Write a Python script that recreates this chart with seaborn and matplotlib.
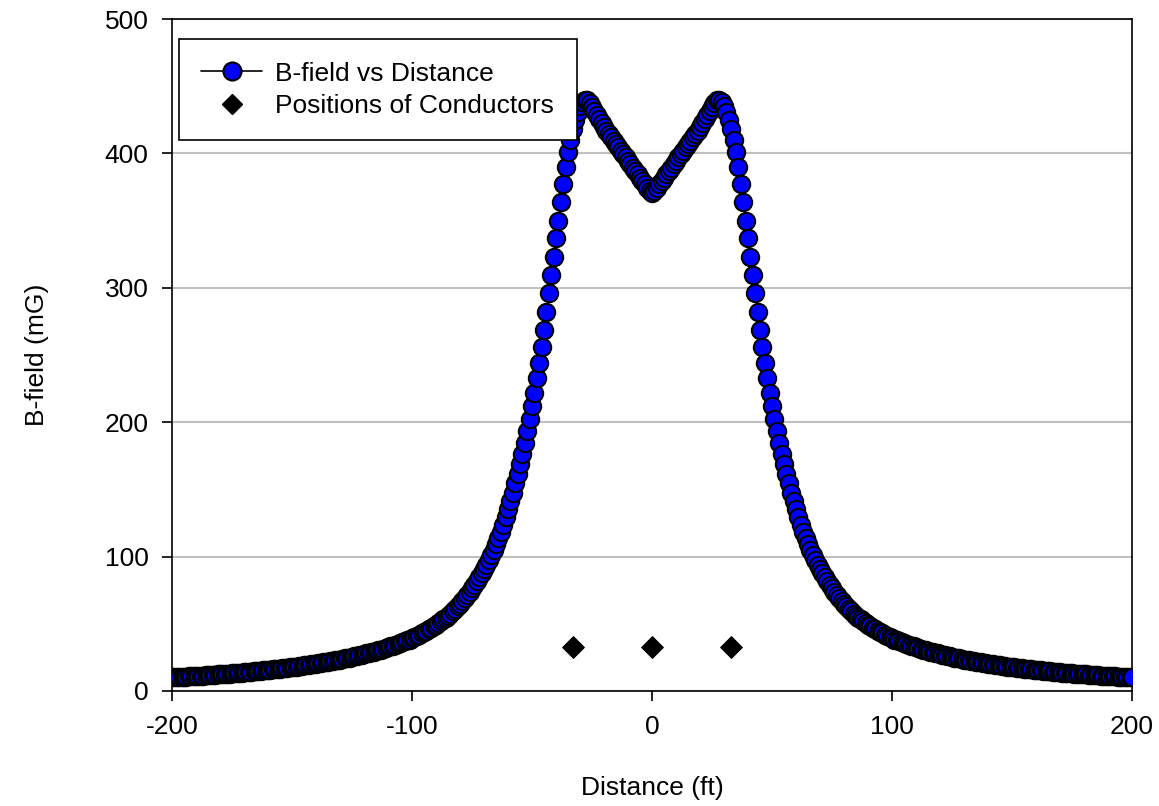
import matplotlib
matplotlib.use("Agg")
import matplotlib.pyplot as plt
from matplotlib.lines import Line2D
import seaborn as sns
import pandas as pd

# distance grid (ft), one point per foot
distance_ft = list(range(-200, 201))

# B-field (mG) for x = -200 .. 0
bfield_left = [
    10.1, 10.2, 10.3, 10.4, 10.5, 10.6, 10.7, 10.9, 11.0, 11.1,
    11.2, 11.3, 11.4, 11.5, 11.7, 11.8, 11.9, 12.0, 12.2, 12.3,
    12.4, 12.6, 12.7, 12.8, 13.0, 13.1, 13.3, 13.4, 13.6, 13.7,
    13.9, 14.1, 14.2, 14.4, 14.6, 14.7, 14.9, 15.1, 15.3, 15.5,
    15.6, 15.8, 16.0, 16.2, 16.4, 16.6, 16.8, 17.1, 17.3, 17.5,
    17.7, 18.0, 18.2, 18.5, 18.7, 19.0, 19.2, 19.5, 19.8, 20.0,
    20.3, 20.6, 20.9, 21.2, 21.5, 21.8, 22.1, 22.4, 22.8, 23.1,
    23.4, 23.8, 24.2, 24.5, 24.9, 25.3, 25.7, 26.1, 26.5, 27.0,
    27.4, 27.9, 28.3, 28.8, 29.3, 29.8, 30.3, 30.8, 31.4, 31.9,
    32.5, 33.1, 33.7, 34.3, 34.9, 35.5, 36.2, 36.9, 37.6, 38.3,
    39.1, 40.0, 40.9, 41.8, 42.8, 43.8, 44.9, 45.9, 47.0, 48.2,
    49.4, 50.6, 51.9, 53.3, 54.6, 56.1, 57.6, 59.3, 61.1, 63.0,
    65.0, 67.1, 69.3, 71.5, 73.9, 76.4, 79.0, 81.8, 84.6, 87.6,
    90.8, 94.1, 97.6, 101.3, 105.2, 109.3, 113.6, 118.5, 123.7, 129.2,
    135.2, 141.1, 147.5, 154.5, 161.5, 168.9, 176.3, 184.7, 193.7, 202.6,
    212.0, 222.0, 232.6, 244.3, 256.2, 268.6, 282.0, 296.0, 309.5, 323.0,
    337.0, 350.0, 364.0, 377.0, 390.0, 401.0, 410.0, 418.0, 425.0, 431.0,
    435.5, 438.5, 440.0, 439.5, 437.5, 434.5, 431.5, 428.5, 425.5, 422.5,
    419.5, 417.0, 414.5, 412.0, 409.5, 407.0, 404.5, 402.0, 399.5, 397.0,
    394.5, 392.0, 389.5, 387.0, 384.5, 382.0, 379.5, 377.0, 374.5, 372.0,
    370.5,
]

# B-field (mG) for x = 1 .. 200
bfield_right = [
    372.0, 374.5, 377.0, 379.5, 382.0, 384.5, 387.0, 389.5, 392.0, 394.5,
    397.0, 399.5, 402.0, 404.5, 407.0, 409.5, 412.0, 414.5, 417.0, 419.5,
    422.5, 425.5, 428.5, 431.5, 434.5, 437.5, 439.5, 440.0, 438.5, 435.5,
    431.0, 425.0, 418.0, 410.0, 401.0, 390.0, 377.0, 364.0, 350.0, 337.0,
    323.0, 309.5, 296.0, 282.0, 268.6, 256.2, 244.3, 232.6, 222.0, 212.0,
    202.6, 193.7, 184.7, 176.3, 168.9, 161.5, 154.5, 147.5, 141.1, 135.2,
    129.2, 123.7, 118.5, 113.6, 109.3, 105.2, 101.3, 97.6, 94.1, 90.8,
    87.6, 84.6, 81.8, 79.0, 76.4, 73.9, 71.5, 69.3, 67.1, 65.0,
    63.0, 61.1, 59.3, 57.6, 56.1, 54.6, 53.3, 51.9, 50.6, 49.4,
    48.2, 47.0, 45.9, 44.9, 43.8, 42.8, 41.8, 40.9, 40.0, 39.1,
    38.3, 37.6, 36.9, 36.2, 35.5, 34.9, 34.3, 33.7, 33.1, 32.5,
    31.9, 31.4, 30.8, 30.3, 29.8, 29.3, 28.8, 28.3, 27.9, 27.4,
    27.0, 26.5, 26.1, 25.7, 25.3, 24.9, 24.5, 24.2, 23.8, 23.4,
    23.1, 22.8, 22.4, 22.1, 21.8, 21.5, 21.2, 20.9, 20.6, 20.3,
    20.0, 19.8, 19.5, 19.2, 19.0, 18.7, 18.5, 18.2, 18.0, 17.7,
    17.5, 17.3, 17.1, 16.8, 16.6, 16.4, 16.2, 16.0, 15.8, 15.6,
    15.5, 15.3, 15.1, 14.9, 14.7, 14.6, 14.4, 14.2, 14.1, 13.9,
    13.7, 13.6, 13.4, 13.3, 13.1, 13.0, 12.8, 12.7, 12.6, 12.4,
    12.3, 12.2, 12.0, 11.9, 11.8, 11.7, 11.5, 11.4, 11.3, 11.2,
    11.1, 11.0, 10.9, 10.7, 10.6, 10.5, 10.4, 10.3, 10.2, 10.1,
]

# conductor positions
conductor_ft = [-33, 0, 33]
conductor_y = [33, 33, 33]

x_ticks = [-200, -100, 0, 100, 200]
y_ticks = [0, 100, 200, 300, 400, 500]

df = pd.DataFrame({"distance": distance_ft, "bfield": bfield_left + bfield_right})
cond = pd.DataFrame({"x": conductor_ft, "y": conductor_y})

sns.set_style("white")
plt.rcParams["font.family"] = ["Liberation Sans", "DejaVu Sans"]
plt.rcParams["font.size"] = 19
plt.rcParams["axes.unicode_minus"] = False
plt.rcParams["text.color"] = "black"
plt.rcParams["axes.labelcolor"] = "black"
plt.rcParams["xtick.color"] = "black"
plt.rcParams["ytick.color"] = "black"

fig, ax = plt.subplots(figsize=(11.59, 8.06), dpi=100)
fig.subplots_adjust(left=0.1484, right=0.9767, top=0.9764, bottom=0.1427)

ax.yaxis.grid(True, color="#c0c0c0", linewidth=1.5, zorder=0)
ax.set_axisbelow(True)

sns.lineplot(data=df, x="distance", y="bfield", ax=ax, color="black", linewidth=1,
             marker="o", markersize=12.5, markerfacecolor="blue",
             markeredgecolor="black", markeredgewidth=1.5, zorder=3)
sns.scatterplot(data=cond, x="x", y="y", ax=ax, marker="D", s=120,
                color="black", edgecolor="black", zorder=4)

ax.set_xlim(-200, 200)
ax.set_ylim(0, 500)
ax.set_xticks(x_ticks)
ax.set_yticks(y_ticks)
ax.set_xlabel("Distance (ft)", fontsize=19, labelpad=27)
ax.set_ylabel("B-field (mG)", fontsize=19, labelpad=40)
ax.tick_params(axis="both", direction="out", length=7, width=1.2, pad=10,
               labelsize=19, colors="black", bottom=True, left=True)

for s in ax.spines.values():
    s.set_color("black")
    s.set_linewidth(1.2)

handles = [
    Line2D([0], [0], color="black", linewidth=1.2, marker="o", markersize=13,
           markerfacecolor="blue", markeredgecolor="black", markeredgewidth=1.5),
    Line2D([0], [0], linestyle="none", marker="D", markersize=10,
           markerfacecolor="black", markeredgecolor="black"),
]
leg = ax.legend(handles, ["B-field vs Distance", "Positions of Conductors"],
                loc="upper left", bbox_to_anchor=(0.0073, 0.970), borderaxespad=0,
                fontsize=19, frameon=True, fancybox=False, shadow=False,
                edgecolor="black", framealpha=1, handlelength=2.3,
                labelspacing=0.32, borderpad=0.85, handletextpad=0.5)
leg.get_frame().set_linewidth(1.2)
leg.set_zorder(10)

fig.savefig("out.png", dpi=100)
